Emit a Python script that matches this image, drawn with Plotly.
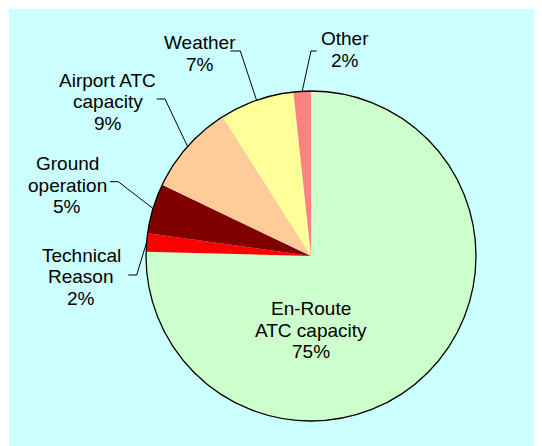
import math
import plotly.graph_objects as go

# ---- data ----
categories = ["En-Route ATC capacity", "Technical Reason", "Ground operation",
              "Airport ATC capacity", "Weather", "Other"]
values = [75.4, 1.8, 4.9, 8.9, 7.3, 1.7]
label_lines = [["En-Route", "ATC capacity"], ["Technical", "Reason"],
               ["Ground", "operation"], ["Airport ATC", "capacity"],
               ["Weather"], ["Other"]]
colors = ["#CCFFCC", "#FF0000", "#800000", "#FFCC99", "#FFFF99", "#FF8080"]

# ---- layout (page pixels; the page body adds an 8px offset) ----
OFF = 8
W, H = 542 - OFF, 446 - OFF
CX, CY, R = 311, 256, 165
LINE_GAP = 21.7
# text centre x, first line centre y, leader (start x, elbow x, y) or None
label_pos = {
    "En-Route ATC capacity": (311, 308.5, None),
    "Technical Reason": (81, 255, (128.3, 136.7, 275)),
    "Ground operation": (67, 163.5, (110, 118.3, 181.7)),
    "Airport ATC capacity": (107.6, 80, (156.7, 165, 99)),
    "Weather": (200, 42.7, (230.3, 240.3, 51)),
    "Other": (345, 38.3, (316.7, 311, 51)),
}


def fx(x):
    return (x - OFF) / W


def fy(y):
    return 1 - (y - OFF) / H


fig = go.Figure(go.Pie(
    labels=categories, values=values, sort=False, direction="clockwise",
    rotation=0, textinfo="none", hoverinfo="label+percent",
    marker=dict(colors=colors, line=dict(width=0)),
    domain=dict(x=[fx(CX - R), fx(CX + R)], y=[fy(CY + R), fy(CY - R)]),
    showlegend=False,
))

shapes = [
    dict(type="rect", xref="paper", yref="paper", x0=fx(9), x1=1.01, y0=-0.01, y1=fy(9),
         fillcolor="#CCFFFF", line=dict(width=0), layer="below"),
    dict(type="circle", xref="paper", yref="paper", x0=fx(CX - R), x1=fx(CX + R),
         y0=fy(CY + R), y1=fy(CY - R), line=dict(color="black", width=1.3), layer="above"),
]
annotations = []
total = sum(values)
cum = 0.0
for cat, v, lines in zip(categories, values, label_lines):
    mid = 2 * math.pi * (cum + v / 2) / total
    cum += v
    tx, ty, leader = label_pos[cat]
    text_lines = lines + [f"{round(100 * v / total)}%"]
    for i, t in enumerate(text_lines):
        annotations.append(dict(
            x=fx(tx), y=fy(ty + i * LINE_GAP), xref="paper", yref="paper",
            text=t, showarrow=False, xanchor="center", yanchor="middle",
            font=dict(family="Liberation Sans, Arial", size=19, color="black")))
    if leader:
        sx, ex, ly = leader
        px_ = CX + R * math.sin(mid)
        py_ = CY - R * math.cos(mid)
        path = f"M {fx(sx)},{fy(ly)} L {fx(ex)},{fy(ly)} L {fx(px_)},{fy(py_)}"
        shapes.append(dict(type="path", xref="paper", yref="paper", path=path,
                           line=dict(color="black", width=1), layer="above"))

fig.update_layout(
    width=W, height=H, margin=dict(l=0, r=0, t=0, b=0),
    paper_bgcolor="white", plot_bgcolor="white",
    shapes=shapes, annotations=annotations,
)
fig.write_html("out.html")
